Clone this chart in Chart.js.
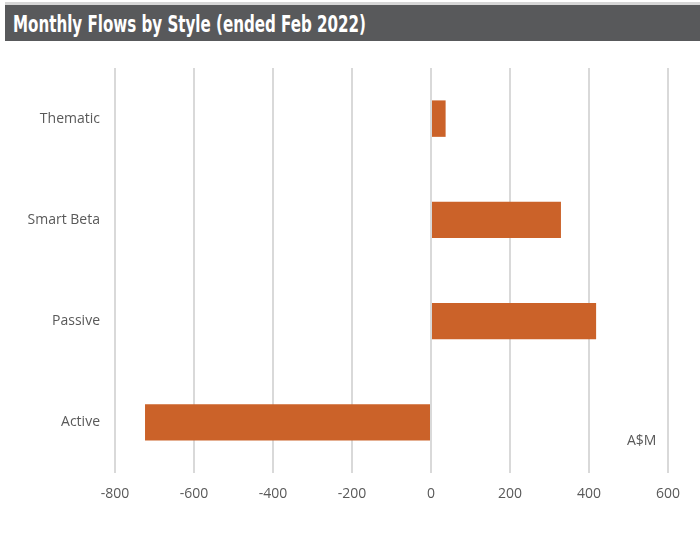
<!DOCTYPE html>
<html>
<head>
<meta charset="utf-8">
<script src="https://cdn.jsdelivr.net/npm/chart.js@4/dist/chart.umd.min.js"></script>
<style>
  html, body { margin: 0; padding: 0; background: #fff; }
  #wrap { position: relative; width: 700px; height: 541px; overflow: hidden; }
  #topline { position: absolute; left: 5px; top: 2px; width: 695px; height: 3px; background: #d6d6d6; }
  #banner { position: absolute; left: 5px; top: 5px; width: 695px; height: 36px; background: #58595b; }
  #title { position: absolute; left: 8px; top: 4px; color: #fff; font-family: "DejaVu Sans Condensed", "Liberation Sans Narrow", "Liberation Sans", sans-serif; font-stretch: condensed; font-weight: bold; font-size: 23px; line-height: 30px; white-space: nowrap; transform-origin: 0 50%; }
  canvas { position: absolute; left: 0; top: 0; }
  #unit { position: absolute; left: 627px; top: 430px; font-family: "Open Sans", "Liberation Sans", sans-serif; font-size: 14px; color: #595959; }
</style>
</head>
<body>
<div id="wrap">
  <div id="topline"></div>
  <div id="banner"><div id="title">Monthly Flows by Style (ended Feb 2022)</div></div>
  <canvas id="c" width="700" height="541"></canvas>
  <div id="unit">A$M</div>
</div>
<script>
const categories = ["Thematic", "Smart Beta", "Passive", "Active"];
const flows = [37, 329, 418, -724];
const xTicks = [-800, -600, -400, -200, 0, 200, 400, 600];

// condense title to match reference width
(function () {
  const t = document.getElementById('title');
  const w = t.getBoundingClientRect().width;
  const target = 353;
  if (w > 0) t.style.transform = 'scaleX(' + (target / w) + ')';
})();

const tickFont = { family: "'Open Sans', 'Liberation Sans', sans-serif", size: 14 };

new Chart(document.getElementById('c'), {
  type: 'bar',
  data: {
    labels: categories,
    datasets: [{
      data: flows,
      backgroundColor: '#cb6229',
      borderWidth: 0,
      barPercentage: 0.36,
      categoryPercentage: 1.0
    }]
  },
  options: {
    indexAxis: 'y',
    responsive: false,
    animation: false,
    layout: { padding: { top: 68, right: 32, bottom: 28, left: 0 } },
    plugins: { legend: { display: false }, tooltip: { enabled: false }, title: { display: false } },
    scales: {
      x: {
        min: xTicks[0],
        max: xTicks[xTicks.length - 1],
        afterBuildTicks: (s) => { s.ticks = xTicks.map(v => ({ value: v })); },
        afterFit: (s) => { s.height = 40; },
        grid: { color: '#d9d9d9', lineWidth: 2, drawTicks: false },
        border: { display: false },
        ticks: { padding: 13, color: '#595959', font: tickFont }
      },
      y: {
        afterFit: (s) => { s.width = 115; },
        grid: { display: false },
        border: { display: false },
        ticks: { padding: 7, color: '#595959', font: tickFont }
      }
    }
  }
});
</script>
</body>
</html>
